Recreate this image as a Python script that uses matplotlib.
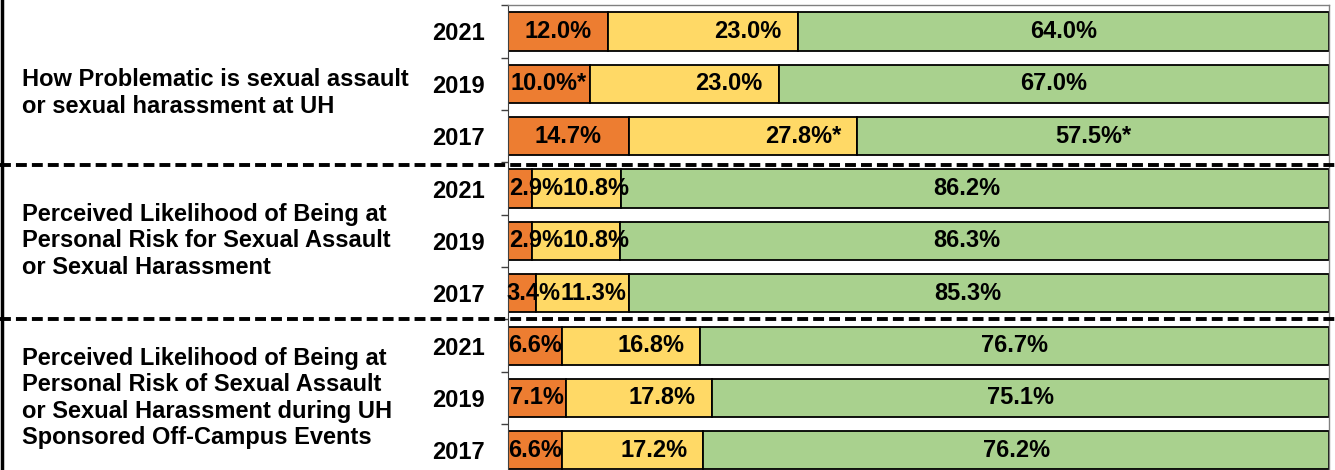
import matplotlib
matplotlib.use("Agg")
import matplotlib.pyplot as plt
from matplotlib.lines import Line2D
from matplotlib import transforms
import numpy as np

plt.rcParams['font.family'] = ['Liberation Sans', 'DejaVu Sans']

# ---- data ----
group_labels = [
    "How Problematic is sexual assault\nor sexual harassment at UH",
    "Perceived Likelihood of Being at\nPersonal Risk for Sexual Assault\nor Sexual Harassment",
    "Perceived Likelihood of Being at\nPersonal Risk of Sexual Assault\nor Sexual Harassment during UH\nSponsored Off-Campus Events",
]
years = ["2021", "2019", "2017", "2021", "2019", "2017", "2021", "2019", "2017"]
orange_vals = [12.0, 10.0, 14.7, 2.9, 2.9, 3.4, 6.6, 7.1, 6.6]
yellow_vals = [23.0, 23.0, 27.8, 10.8, 10.8, 11.3, 16.8, 17.8, 17.2]
green_vals = [64.0, 67.0, 57.5, 86.2, 86.3, 85.3, 76.7, 75.1, 76.2]
orange_stars = ["", "*", "", "", "", "", "", "", ""]
yellow_stars = ["", "", "*", "", "", "", "", "", ""]
green_stars = ["", "", "*", "", "", "", "", "", ""]

# label horizontal nudges (pixels) - layout only
orange_dx = [0, 0, 0, 16, 16, 11, 0, 0, 0]
yellow_dx = [45, 44, 60, 20, 20, 11, 20, 23, 21]
green_dx = [0, 0, 0, -8, -8, -11, 0, 0, 0]

colors = ["#ED7D31", "#FFD966", "#A9D18E"]

W, H = 1335, 470
fig = plt.figure(figsize=(W / 100, H / 100), dpi=100)
ax = fig.add_axes([508 / W, -6.5 / H, 821 / W, 471.2 / H])

n = len(years)
y = np.arange(n)
o = np.array(orange_vals)
yv = np.array(yellow_vals)
g = np.array(green_vals)
tot = o + yv + g
o_p, y_p, g_p = o / tot * 100, yv / tot * 100, g / tot * 100

series = [
    (o_p, np.zeros(n), o, orange_stars, orange_dx),
    (y_p, o_p, yv, yellow_stars, yellow_dx),
    (g_p, o_p + y_p, g, green_stars, green_dx),
]
fs = 17
for (w, left, vals, stars, dxs), c in zip(series, colors):
    ax.barh(y, w, left=left, height=0.73, color=c, edgecolor="black",
            linewidth=1.3, zorder=2)
    for i in range(n):
        ax.annotate(f"{vals[i]:.1f}%{stars[i]}", xy=(left[i] + w[i] / 2, y[i]),
                    xytext=(dxs[i], 0), textcoords="offset pixels",
                    ha="center", va="center", fontsize=fs, fontweight="bold",
                    color="black", zorder=3, annotation_clip=False)

ax.set_xlim(0, 100)
ax.set_ylim(n - 0.5, -0.5)
ax.set_xticks([])
ax.set_yticks(y)
ax.set_yticklabels(years, fontsize=fs, fontweight="bold")
ax.tick_params(axis="y", which="major", length=0, pad=17)
ax.set_yticks(np.arange(n + 1) - 0.5, minor=True)
ax.tick_params(axis="y", which="minor", length=5, width=1, color="#404040")
for s in ["top", "right"]:
    ax.spines[s].set_color("#808080")
    ax.spines[s].set_linewidth(1)
ax.spines["left"].set_color("#404040")
ax.spines["bottom"].set_visible(False)

# group labels
bt = transforms.blended_transform_factory(fig.transFigure, ax.transData)
group_y = [1.17, 4.0, 7.0]
for lab, gy in zip(group_labels, group_y):
    fig.text(22 / W, gy, lab, transform=bt, ha="left", va="center",
             fontsize=fs, fontweight="bold", linespacing=1.2)

# dashed separators
for sy in [2.55, 5.5]:
    fig.add_artist(Line2D([0, 1], [sy, sy], transform=bt, color="black",
                          linewidth=2.8, linestyle=(0, (2.8, 1.3)), zorder=5))

# left border line
fig.add_artist(Line2D([1.5 / W, 1.5 / W], [0, 1], transform=fig.transFigure,
                      color="black", linewidth=2.5))

fig.savefig("out.png", dpi=100)
